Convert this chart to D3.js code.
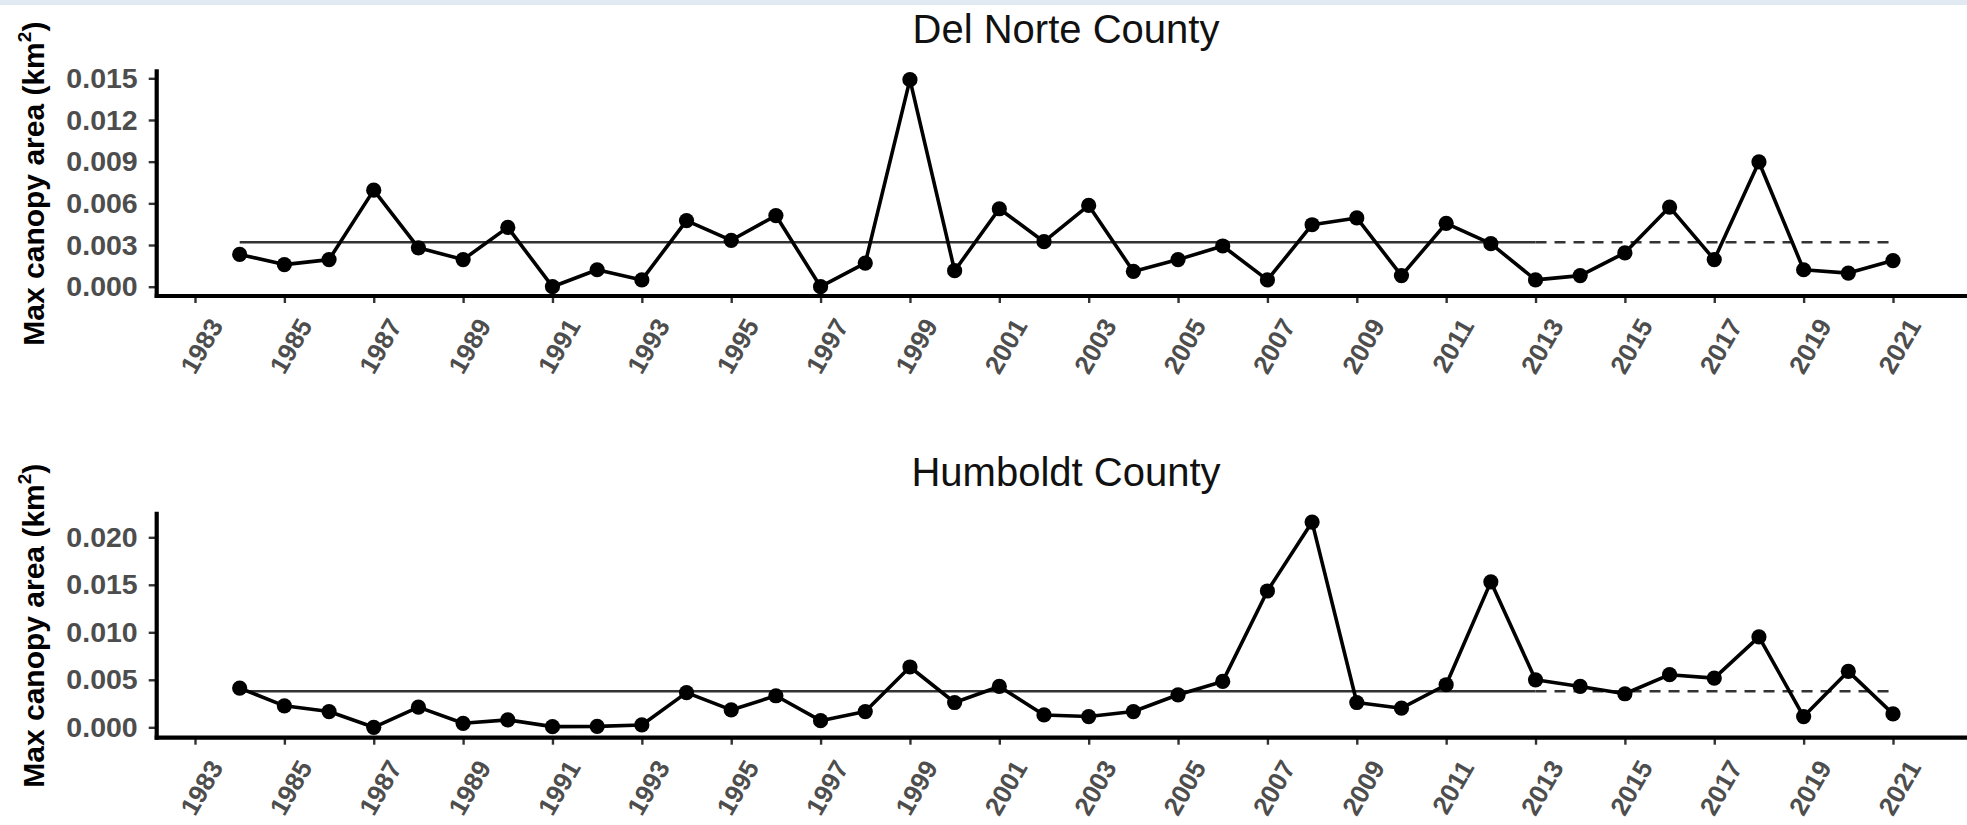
<!DOCTYPE html>
<html>
<head>
<meta charset="utf-8">
<script src="https://cdn.jsdelivr.net/npm/d3@7"></script>
<style>
  html, body { margin: 0; padding: 0; background: #ffffff; }
  svg { display: block; }
  text { font-family: "Liberation Sans", Arial, Helvetica, sans-serif; }
</style>
</head>
<body>
<svg id="chart" width="1967" height="825"></svg>
<script>
// ---------------- DATA ----------------
const years = [1984,1985,1986,1987,1988,1989,1990,1991,1992,1993,
               1994,1995,1996,1997,1998,1999,2000,2001,2002,2003,
               2004,2005,2006,2007,2008,2009,2010,2011,2012,2013,
               2014,2015,2016,2017,2018,2019,2020,2021];

const delNorte = [0.00232,0.00159,0.00195,0.00695,0.00280,0.00195,0.00427,0.00000,0.00122,0.00049,
                  0.00476,0.00334,0.00512,0.00000,0.00170,0.01490,0.00115,0.00561,0.00324,0.00585,
                  0.00110,0.00195,0.00293,0.00049,0.00446,0.00495,0.00080,0.00456,0.00310,0.00049,
                  0.00080,0.00244,0.00573,0.00195,0.00898,0.00122,0.00098,0.00188];

const humboldt = [0.00413,0.00226,0.00166,0.00000,0.00212,0.00042,0.00078,0.00007,0.00010,0.00025,
                  0.00365,0.00183,0.00332,0.00070,0.00166,0.00635,0.00261,0.00430,0.00130,0.00113,
                  0.00166,0.00342,0.00483,0.01435,0.02160,0.00261,0.00201,0.00448,0.01531,0.00500,
                  0.00430,0.00353,0.00554,0.00518,0.00952,0.00113,0.00589,0.00141];

// reference (mean) line: solid over the baseline period, dashed afterwards
const meanDelNorte = 0.0032;
const meanHumboldt = 0.0038;
const baselineYears = [1984, 2013];
const projectionYears = [2013, 2021];

const xTickYears = [1983,1985,1987,1989,1991,1993,1995,1997,1999,2001,
                    2003,2005,2007,2009,2011,2013,2015,2017,2019,2021];
const xTickLabels = ["1983","1985","1987","1989","1991","1993","1995","1997","1999","2001",
                     "2003","2005","2007","2009","2011","2013","2015","2017","2019","2021"];

const topTicks = [0, 0.003, 0.006, 0.009, 0.012, 0.015];
const topTickLabels = ["0.000","0.003","0.006","0.009","0.012","0.015"];
const botTicks = [0, 0.005, 0.010, 0.015, 0.020];
const botTickLabels = ["0.000","0.005","0.010","0.015","0.020"];

const titles = ["Del Norte County", "Humboldt County"];
const yTitle = "Max canopy area (km";

// ---------------- LAYOUT ----------------
const svg = d3.select("#chart");
const W = 1967;

svg.append("rect").attr("x", 0).attr("y", 0).attr("width", W).attr("height", 5)
   .attr("fill", "#e1e9f3");

const axisX = 156.7;
const x = d3.scaleLinear().domain([1983, 2021]).range([195, 1893]);

const panels = [
  { title: titles[0], data: delNorte, mean: meanDelNorte, ticks: topTicks, tickLabels: topTickLabels,
    y: d3.scaleLinear().domain([0, 0.015]).range([286.7, 78.3]),
    top: 69.3, bottom: 296, titleY: 43 },
  { title: titles[1], data: humboldt, mean: meanHumboldt, ticks: botTicks, tickLabels: botTickLabels,
    y: d3.scaleLinear().domain([0, 0.020]).range([727.3, 537.3]),
    top: 511.7, bottom: 737.7, titleY: 485.5 }
];

panels.forEach(p => {
  const g = svg.append("g");
  const y = p.y;

  // title
  g.append("text")
    .attr("x", 1066).attr("y", p.titleY)
    .attr("text-anchor", "middle")
    .attr("font-size", 40)
    .attr("fill", "#111")
    .text(p.title);

  // y axis title
  const yt = g.append("text")
    .attr("transform", `translate(44,${(p.top + p.bottom) / 2 + 1}) rotate(-90)`)
    .attr("text-anchor", "middle")
    .attr("font-size", 30)
    .attr("font-weight", "bold")
    .attr("fill", "#000");
  yt.append("tspan").text(yTitle);
  yt.append("tspan").attr("font-size", 19).attr("dy", -13).text("2");
  yt.append("tspan").attr("dy", 13).text(")");

  // y axis ticks + labels
  const yAxis = d3.axisLeft(y)
    .tickValues(p.ticks)
    .tickFormat((d, i) => p.tickLabels[i])
    .tickSize(8)
    .tickPadding(11);
  const ya = g.append("g").attr("transform", `translate(${axisX},0)`).call(yAxis);
  ya.select(".domain").remove();
  ya.selectAll(".tick line").attr("stroke", "#333").attr("stroke-width", 2.4);
  ya.selectAll(".tick text")
    .attr("font-size", 28.5).attr("font-weight", "bold").attr("fill", "#4d4d4d")
    .attr("font-family", "\"Liberation Sans\", Arial, sans-serif");

  // x axis ticks
  const xAxis = d3.axisBottom(x)
    .tickValues(xTickYears)
    .tickFormat(() => "")
    .tickSize(7);
  const xa = g.append("g").attr("transform", `translate(0,${p.bottom})`).call(xAxis);
  xa.select(".domain").remove();
  xa.selectAll(".tick line").attr("stroke", "#333").attr("stroke-width", 2.4);

  // x tick labels rotated 60°
  g.selectAll(".xlab")
    .data(xTickYears)
    .enter().append("text")
    .attr("class", "xlab")
    .attr("transform", d => `translate(${x(d) + 21},${p.bottom + 25}) rotate(-60)`)
    .attr("text-anchor", "end")
    .attr("dy", "0.35em")
    .attr("font-size", 26)
    .attr("font-weight", "bold")
    .attr("fill", "#4d4d4d")
    .text((d, i) => xTickLabels[i]);

  // axis lines
  g.append("line").attr("x1", axisX).attr("x2", axisX)
    .attr("y1", p.top).attr("y2", p.bottom + 2)
    .attr("stroke", "#000").attr("stroke-width", 4.2);
  g.append("line").attr("x1", axisX - 2).attr("x2", W)
    .attr("y1", p.bottom).attr("y2", p.bottom)
    .attr("stroke", "#000").attr("stroke-width", 4.2);

  // mean lines
  g.append("line")
    .attr("x1", x(baselineYears[0])).attr("x2", x(baselineYears[1]))
    .attr("y1", y(p.mean)).attr("y2", y(p.mean))
    .attr("stroke", "#333").attr("stroke-width", 2.6);
  g.append("line")
    .attr("x1", x(projectionYears[0])).attr("x2", x(projectionYears[1]))
    .attr("y1", y(p.mean)).attr("y2", y(p.mean))
    .attr("stroke", "#333").attr("stroke-width", 2.6)
    .attr("stroke-dasharray", "11,8");

  // series line
  const pts = years.map((yr, i) => ({ yr, v: p.data[i] }));
  const line = d3.line().x(d => x(d.yr)).y(d => y(d.v));
  g.append("path").datum(pts)
    .attr("d", line)
    .attr("fill", "none")
    .attr("stroke", "#000")
    .attr("stroke-width", 3.6)
    .attr("stroke-linejoin", "round");

  g.selectAll(".pt").data(pts).enter().append("circle")
    .attr("class", "pt")
    .attr("cx", d => x(d.yr))
    .attr("cy", d => y(d.v))
    .attr("r", 7.6)
    .attr("fill", "#000");
});
</script>
</body>
</html>
